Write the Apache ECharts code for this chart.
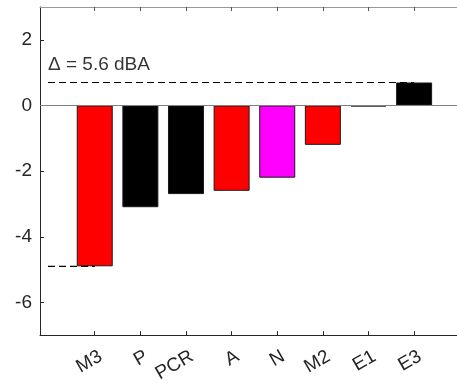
<!DOCTYPE html>
<html>
<head>
<meta charset="utf-8">
<script src="https://cdn.jsdelivr.net/npm/echarts@6/dist/echarts.min.js"></script>
<style>html,body{margin:0;padding:0;background:#fff}#c{width:457px;height:385px}</style>
</head>
<body>
<div id="c"></div>
<script>
var categories = ['M3', 'P', 'PCR', 'A', 'N', 'M2', 'E1', 'E3'];
var values = [-4.9, -3.1, -2.7, -2.6, -2.2, -1.2, -0.03, 0.7];
var colors = ['#ff0000', '#000000', '#000000', '#ff0000', '#ff00ff', '#ff0000', '#000000', '#000000'];
var yTicks = [-6, -4, -2, 0, 2];

var positions = categories.map(function (c, i) { return i + 1; });
var maxV = Math.max.apply(null, values);
var minV = Math.min.apply(null, values);
var maxI = values.indexOf(maxV) + 1;
var minI = values.indexOf(minV) + 1;
var lineStart = -0.025;
var deltaText = '\u0394 = ' + (maxV - minV).toFixed(1) + ' dBA';

var xMin = -0.2, xMax = 8.94;
var labelShift = 0.13; // rotated labels sit slightly right of their ticks
var font = 'Liberation Sans, Arial, sans-serif';
var chart = echarts.init(document.getElementById('c'));
chart.setOption({
  animation: false,
  grid: { left: 40, top: 7, right: 0, bottom: 46 },
  xAxis: [{
    type: 'value', min: xMin, max: xMax, position: 'bottom',
    axisLine: { onZero: false, lineStyle: { color: '#262626', width: 1 } },
    axisTick: { inside: true, length: 4, customValues: positions, lineStyle: { color: '#262626' } },
    axisLabel: { show: false },
    splitLine: { show: false }
  }, {
    type: 'value', min: xMin, max: xMax, position: 'top',
    axisLine: { onZero: false, lineStyle: { color: '#999999', width: 1 } },
    axisTick: { inside: true, length: 4, customValues: positions, lineStyle: { color: '#555555' } },
    axisLabel: { show: false },
    splitLine: { show: false }
  }, {
    type: 'value', min: xMin - labelShift, max: xMax - labelShift, position: 'bottom',
    axisLine: { show: false, onZero: false },
    axisTick: { show: false },
    axisLabel: {
      customValues: positions, rotate: 30, margin: 20,
      fontFamily: font, fontSize: 19, color: '#262626',
      formatter: function (v) { return categories[Math.round(v) - 1] || ''; }
    },
    splitLine: { show: false }
  }],
  yAxis: {
    type: 'value', min: -7, max: 3,
    axisLine: { show: true, onZero: false, lineStyle: { color: '#262626', width: 1 } },
    axisTick: { show: true, inside: true, length: 4, customValues: yTicks, lineStyle: { color: '#262626' } },
    axisLabel: { customValues: yTicks, margin: 8, fontFamily: font, fontSize: 19, color: '#262626' },
    splitLine: { show: false }
  },
  series: [{
    type: 'line',
    data: [],
    silent: true,
    markLine: {
      silent: true, symbol: 'none', label: { show: false },
      lineStyle: { color: '#808080', type: 'solid', width: 1 },
      data: [{ yAxis: 0 }]
    },
    z: 1
  }, {
    type: 'bar',
    xAxisIndex: 0,
    barWidth: 36,
    barMinHeight: 1,
    data: values.map(function (v, i) {
      return { value: [positions[i], v], itemStyle: { color: colors[i], borderColor: '#1a1a1a', borderWidth: 1 } };
    }),
    z: 2
  }, {
    type: 'line',
    symbol: 'none',
    lineStyle: { color: '#000', width: 1.2, type: [7, 4] },
    data: [[lineStart, maxV], [maxI, maxV]],
    z: 3
  }, {
    type: 'line',
    symbol: 'none',
    lineStyle: { color: '#000', width: 1.2, type: [7, 4] },
    data: [[lineStart, minV], [minI, minV]],
    z: 3
  }, {
    type: 'scatter',
    symbolSize: 1,
    itemStyle: { color: 'rgba(0,0,0,0)' },
    label: {
      show: true, position: 'top', align: 'left', distance: 8,
      fontFamily: font, fontSize: 19, color: '#000',
      formatter: function () { return deltaText; }
    },
    data: [[lineStart, maxV]],
    z: 4
  }]
});
</script>
</body>
</html>
